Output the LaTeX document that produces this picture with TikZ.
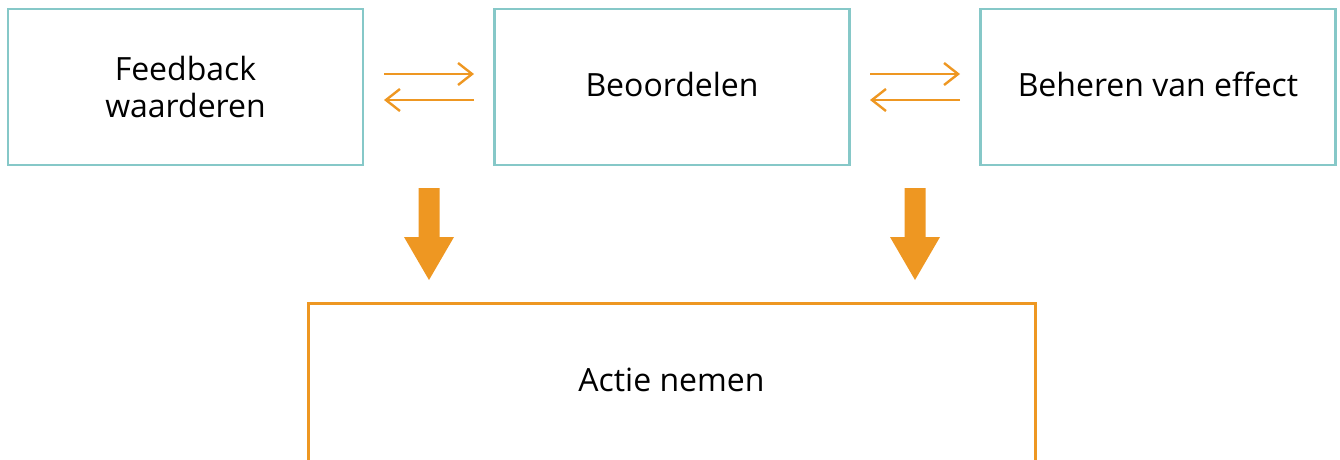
\documentclass[tikz,border=0pt]{standalone}
\usepackage{fontspec}
\setmainfont{Open Sans}
\usetikzlibrary{arrows.meta}
\definecolor{teal1}{RGB}{134,200,200}
\definecolor{org}{RGB}{238,151,34}
\begin{document}
\begin{tikzpicture}[x=1pt,y=-1pt,
  tbox/.style={draw=teal1,line width=2.6pt,minimum width=355pt,minimum height=156pt,inner sep=0pt,align=center,font=\fontsize{32}{37}\selectfont},
  thin/.style={draw=org,line width=2.4pt,-{Straight Barb[length=14pt,width=22pt,line width=2.4pt]}},
  lbl/.style={font=\fontsize{32}{37}\selectfont,inner sep=0pt}]
\useasboundingbox (0,0) rectangle (1340,459);
\node[tbox] (fw) at (185.5,87) {Feedback\\waarderen};
\node[tbox,text depth=6pt] (bo) at (672,87) {Beoordelen};
\node[tbox,text depth=6pt] (be) at (1158,87) {Beheren van effect};
% thin arrows
\coordinate (a1) at (384,74); \coordinate (a2) at (474,74);
\coordinate (a3) at (474,100); \coordinate (a4) at (384,100);
\coordinate (b1) at (870,74); \coordinate (b2) at (960,74);
\coordinate (b3) at (960,100); \coordinate (b4) at (870,100);
\draw[thin] (a1) -- (a2);
\draw[thin] (a3) -- (a4);
\draw[thin] (b1) -- (b2);
\draw[thin] (b3) -- (b4);
% block arrows
\foreach \cx in {429,915}{
  \fill[org] (\cx-10.5,188) -- (\cx+10.5,188) -- (\cx+10.5,237) -- (\cx+25,237) -- (\cx,280) -- (\cx-25,237) -- (\cx-10.5,237) -- cycle;
}
% bottom box
\draw[org,line width=3pt] (308,462) -- (308,303) -- (1035,303) -- (1035,462);
\node[lbl] (an) at (671.5,380) {Actie nemen};
\end{tikzpicture}
\end{document}
